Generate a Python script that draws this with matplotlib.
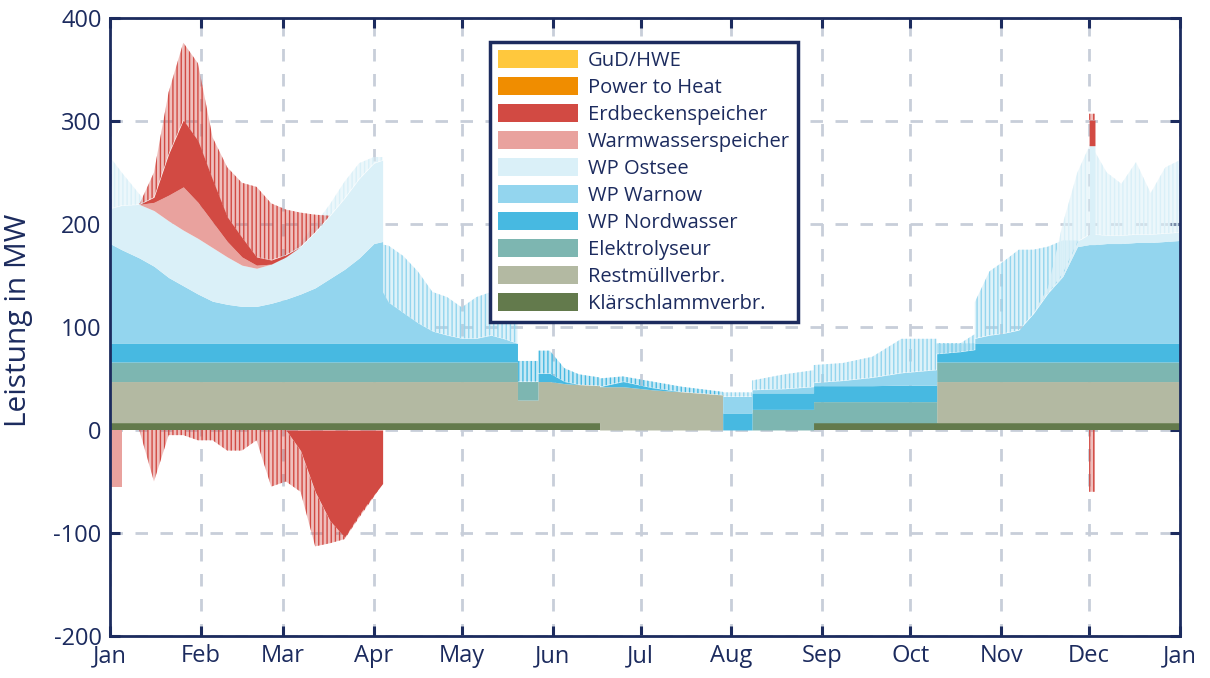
import matplotlib
matplotlib.use("Agg")
import matplotlib.pyplot as plt
from matplotlib.patches import Patch
import numpy as np

plt.rcParams['font.family'] = ['Open Sans', 'DejaVu Sans']
plt.rcParams['axes.unicode_minus'] = False
plt.rcParams['hatch.linewidth'] = 1.0

# ---------------- data (MW) ----------------
# day of year; repeated days mark step changes
days = [0, 4, 4, 10, 15, 20, 25, 30, 35, 40,
        45, 50, 55, 60, 65, 70, 75, 80, 85, 90,
        93, 93, 95, 100, 105, 110, 115, 120, 125, 130,
        135, 139, 139, 146, 146, 150, 155, 160, 167, 167,
        175, 185, 195, 209, 209, 219, 219, 230, 240, 240,
        250, 260, 270, 282, 282, 290, 295, 295, 300, 305,
        310, 315, 320, 325, 330, 334, 334, 336, 336, 340,
        345, 350, 355, 360, 365]

klaerschlamm = [7, 7, 7, 7, 7, 7, 7, 7, 7, 7,
                7, 7, 7, 7, 7, 7, 7, 7, 7, 7,
                7, 7, 7, 7, 7, 7, 7, 7, 7, 7,
                7, 7, 7, 7, 7, 7, 7, 7, 7, 0,
                0, 0, 0, 0, 0, 0, 0, 0, 0, 7,
                7, 7, 7, 7, 7, 7, 7, 7, 7, 7,
                7, 7, 7, 7, 7, 7, 7, 7, 7, 7,
                7, 7, 7, 7, 7]

restmuell = [40, 40, 40, 40, 40, 40, 40, 40, 40, 40,
             40, 40, 40, 40, 40, 40, 40, 40, 40, 40,
             40, 40, 40, 40, 40, 40, 40, 40, 40, 40,
             40, 40, 22, 22, 40, 40, 38, 37, 36, 42,
             42, 39, 37, 34, 0, 0, 0, 0, 0, 0,
             0, 0, 0, 0, 40, 40, 40, 40, 40, 40,
             40, 40, 40, 40, 40, 40, 40, 40, 40, 40,
             40, 40, 40, 40, 40]

elektrolyseur = [19, 19, 19, 19, 19, 19, 19, 19, 19, 19,
                 19, 19, 19, 19, 19, 19, 19, 19, 19, 19,
                 19, 19, 19, 19, 19, 19, 19, 19, 19, 19,
                 19, 19, 18, 18, 0, 0, 0, 0, 0, 0,
                 0, 0, 0, 0, 0, 0, 20, 20, 20, 20.5,
                 20.5, 20.5, 20.5, 20.5, 19, 19, 19, 19, 19, 19,
                 19, 19, 19, 19, 19, 19, 19, 19, 19, 19,
                 19, 19, 19, 19, 19]

wp_nordwasser = [18, 18, 18, 18, 18, 18, 18, 18, 18, 18,
                 18, 18, 18, 18, 18, 18, 18, 18, 18, 18,
                 18, 18, 18, 18, 18, 18, 18, 18, 18, 18,
                 18, 18, 0, 0, 8, 8, 2, 0, 0, 0,
                 5, 2, 0, 0, 16.5, 16.5, 16, 16, 16, 15.5,
                 15.5, 15.5, 16, 16, 8, 10, 12, 18, 18, 18,
                 18, 18, 18, 18, 18, 18, 18, 18, 18, 18,
                 18, 18, 18, 18, 18]
wp_nordwasser_peak = [18, 18, 18, 18, 18, 18, 18, 18, 18, 18,
                      18, 18, 18, 18, 18, 18, 18, 18, 18, 18,
                      18, 18, 18, 18, 18, 18, 18, 18, 18, 18,
                      18, 18, 20, 20, 30, 30, 15, 10, 8, 8,
                      10, 8, 5, 3, 16.5, 16.5, 16, 16, 16, 15.5,
                      15.5, 15.5, 16, 16, 18, 18, 18, 18, 18, 18,
                      18, 18, 18, 18, 18, 18, 18, 18, 18, 18,
                      18, 18, 18, 18, 18]

wp_warnow = [97, 91, 91, 83, 75, 64, 56, 48, 41, 38,
             36, 36, 39, 43, 48, 54, 63, 72, 83, 97,
             99, 50, 40, 30, 20, 12, 8, 5, 5, 8,
             4, 0, 0, 0, 0, 0, 0, 0, 0, 0,
             0, 0, 0, 0, 16, 16, 3, 4, 6, 3,
             5, 8, 12, 15, 0, 0, 0, 5, 8, 10,
             13, 29, 49, 65, 94, 96, 96, 96, 96, 97,
             97, 98, 98, 99, 100]
wp_warnow_peak = [97, 91, 91, 83, 75, 64, 56, 48, 41, 38,
                  36, 36, 39, 43, 48, 54, 63, 72, 83, 97,
                  99, 96, 95, 85, 70, 50, 45, 35, 45, 50,
                  35, 20, 0, 0, 0, 0, 0, 0, 0, 0,
                  0, 0, 0, 0, 20, 20, 12, 18, 22, 20,
                  22, 28, 45, 45, 10, 8, 15, 40, 70, 80,
                  91, 91, 94, 100, 100, 99, 96, 96, 99, 100,
                  100, 100, 100, 101, 102]

wp_ostsee = [34, 43, 43, 52, 54, 55, 54, 54, 52, 46,
             40, 37, 38, 41, 46, 54, 61, 69, 77, 78,
             79, 0, 0, 0, 0, 0, 0, 0, 0, 0,
             0, 0, 0, 0, 0, 0, 0, 0, 0, 0,
             0, 0, 0, 0, 0, 0, 0, 0, 0, 0,
             0, 0, 0, 0, 0, 0, 0, 0, 0, 0,
             0, 0, 0, 3, 5, 10, 96, 96, 10, 8,
             8, 8, 8, 8, 8]
wp_ostsee_peak = [84, 75, 75, 62, 54, 55, 54, 54, 52, 46,
                  40, 37, 38, 41, 50, 62, 72, 85, 92, 84,
                  82, 0, 0, 0, 0, 0, 0, 0, 0, 0,
                  0, 0, 0, 0, 0, 0, 0, 0, 0, 0,
                  0, 0, 0, 0, 0, 0, 0, 0, 0, 0,
                  0, 0, 0, 0, 0, 0, 0, 0, 0, 0,
                  0, 0, 5, 51, 72, 95, 97, 97, 90, 69,
                  58, 78, 48, 72, 78]

warmwasser = [0, 0, 0, 0, 8, 25, 42, 35, 25, 15,
              8, 3, 0, 0, 0, 0, 0, 0, 0, 0,
              0, 0, 0, 0, 0, 0, 0, 0, 0, 0,
              0, 0, 0, 0, 0, 0, 0, 0, 0, 0,
              0, 0, 0, 0, 0, 0, 0, 0, 0, 0,
              0, 0, 0, 0, 0, 0, 0, 0, 0, 0,
              0, 0, 0, 0, 0, 0, 0, 0, 0, 0,
              0, 0, 0, 0, 0]
warmwasser_neg = [-55, -55, 0, 0, 0, 0, 0, 0, 0, 0,
                  0, 0, 0, 0, 0, 0, 0, 0, 0, 0,
                  0, 0, 0, 0, 0, 0, 0, 0, 0, 0,
                  0, 0, 0, 0, 0, 0, 0, 0, 0, 0,
                  0, 0, 0, 0, 0, 0, 0, 0, 0, 0,
                  0, 0, 0, 0, 0, 0, 0, 0, 0, 0,
                  0, 0, 0, 0, 0, 0, 0, 0, 0, 0,
                  0, 0, 0, 0, 0]

erdbecken = [0, 0, 0, 0, 5, 40, 65, 60, 41, 24,
             19, 8, 4, 2, 0, 0, 0, 0, 0, 0,
             0, 0, 0, 0, 0, 0, 0, 0, 0, 0,
             0, 0, 0, 0, 0, 0, 0, 0, 0, 0,
             0, 0, 0, 0, 0, 0, 0, 0, 0, 0,
             0, 0, 0, 0, 0, 0, 0, 0, 0, 0,
             0, 0, 0, 0, 0, 0, 25, 25, 0, 0,
             0, 0, 0, 0, 0]
erdbecken_peak = [0, 0, 0, 0, 29, 100, 140, 135, 82, 72,
                  72, 76, 59, 46, 33, 17, 0, 0, 0, 0,
                  0, 0, 0, 0, 0, 0, 0, 0, 0, 0,
                  0, 0, 0, 0, 0, 0, 0, 0, 0, 0,
                  0, 0, 0, 0, 0, 0, 0, 0, 0, 0,
                  0, 0, 0, 0, 0, 0, 0, 0, 0, 0,
                  0, 0, 0, 0, 0, 0, 31, 31, 0, 0,
                  0, 0, 0, 0, 0]
erdbecken_neg = [0, 0, 0, 0, 0, 0, 0, 0, 0, 0,
                 0, 0, 0, 0, -20, -60, -88, -104, -82, -63,
                 -52, 0, 0, 0, 0, 0, 0, 0, 0, 0,
                 0, 0, 0, 0, 0, 0, 0, 0, 0, 0,
                 0, 0, 0, 0, 0, 0, 0, 0, 0, 0,
                 0, 0, 0, 0, 0, 0, 0, 0, 0, 0,
                 0, 0, 0, 0, 0, 0, 0, 0, 0, 0,
                 0, 0, 0, 0, 0]
erdbecken_neg_peak = [0, 0, 0, 0, -50, -5, -5, -10, -10, -20,
                      -20, -10, -55, -50, -60, -113, -110, -106, -85, -65,
                      -52, 0, 0, 0, 0, 0, 0, 0, 0, 0,
                      0, 0, 0, 0, 0, 0, 0, 0, 0, 0,
                      0, 0, 0, 0, 0, 0, 0, 0, 0, 0,
                      0, 0, 0, 0, 0, 0, 0, 0, 0, 0,
                      0, 0, 0, 0, 0, 0, -60, -60, 0, 0,
                      0, 0, 0, 0, 0]

month_starts = [0, 31, 59, 90, 120, 151, 181, 212, 243, 273, 304, 334, 365]
month_labels = ['Jan', 'Feb', 'Mar', 'Apr', 'May', 'Jun', 'Jul', 'Aug',
                'Sep', 'Oct', 'Nov', 'Dec', 'Jan']
y_ticks = [-200, -100, 0, 100, 200, 300, 400]

legend_names = ['GuD/HWE', 'Power to Heat', 'Erdbeckenspeicher',
                'Warmwasserspeicher', 'WP Ostsee', 'WP Warnow',
                'WP Nordwasser', 'Elektrolyseur', 'Restmüllverbr.',
                'Klärschlammverbr.']

# ---------------- style ----------------
NAVY = '#1c2b5e'
colors = {
    'GuD/HWE': '#FFC83D',
    'Power to Heat': '#F08D00',
    'Erdbeckenspeicher': '#D24A43',
    'Warmwasserspeicher': '#E9A29E',
    'WP Ostsee': '#DAF0F8',
    'WP Warnow': '#93D5EE',
    'WP Nordwasser': '#47B9E1',
    'Elektrolyseur': '#7DB6B1',
    'Restmüllverbr.': '#B3B9A2',
    'Klärschlammverbr.': '#637A4C',
}
# look of the fluctuating (hourly peak) envelope of each series
peak_alpha = {'WP Nordwasser': 0.3, 'WP Warnow': 0.3, 'WP Ostsee': 0.5,
              'Erdbeckenspeicher': 0.35}
peak_hatch = '||||'

fig = plt.figure(figsize=(12.10, 6.78), dpi=100)
ax = fig.add_axes([0.0909, 0.062, 0.8843, 0.9115])

x = np.array(days, dtype=float)
stack = [
    ('Klärschlammverbr.', klaerschlamm, None),
    ('Restmüllverbr.', restmuell, None),
    ('Elektrolyseur', elektrolyseur, None),
    ('WP Nordwasser', wp_nordwasser, wp_nordwasser_peak),
    ('WP Warnow', wp_warnow, wp_warnow_peak),
    ('WP Ostsee', wp_ostsee, wp_ostsee_peak),
    ('Warmwasserspeicher', warmwasser, None),
    ('Erdbeckenspeicher', erdbecken, erdbecken_peak),
]


def peak_band(x, lo, hi, name, z=1.5):
    c = colors[name]
    ax.fill_between(x, lo, hi, facecolor=c, alpha=peak_alpha[name], lw=0, zorder=z)
    ax.fill_between(x, lo, hi, facecolor='none', edgecolor=c, hatch=peak_hatch,
                    lw=0, zorder=z)


cum = np.zeros_like(x)
for name, vals, peak in stack:
    v = np.array(vals, dtype=float)
    top = cum + v
    ax.fill_between(x, cum, top, color=colors[name], lw=0, zorder=2)
    if peak is not None:
        peak_band(x, top, cum + np.array(peak, dtype=float), name)
    cum = top

ax.fill_between(x, 0, warmwasser_neg, color=colors['Warmwasserspeicher'], lw=0, zorder=2)
ax.fill_between(x, 0, erdbecken_neg, color=colors['Erdbeckenspeicher'], lw=0, zorder=2)
peak_band(x, erdbecken_neg, erdbecken_neg_peak, 'Erdbeckenspeicher')

ax.set_xlim(0, 365)
ax.set_ylim(-200, 400)
ax.set_xticks(month_starts)
ax.set_xticklabels(month_labels)
ax.set_yticks(y_ticks)
ax.set_axisbelow(True)
ax.grid(True, color='#c8ced9', lw=2, dashes=(4.5, 4.5))

for s in ax.spines.values():
    s.set_color(NAVY)
    s.set_linewidth(2)
    s.set_zorder(5)
ax.tick_params(direction='in', length=7, width=2.2, color=NAVY, labelcolor=NAVY,
               labelsize=17, top=True, right=True, pad=6)
ax.set_ylabel('Leistung in MW', fontsize=21.5, color=NAVY, labelpad=5)
ax.yaxis.set_label_coords(-0.072, 0.51)

handles = [Patch(facecolor=colors[n], edgecolor='none') for n in legend_names]
leg = ax.legend(handles, legend_names, loc='upper left', bbox_to_anchor=(0.355, 0.961),
                fontsize=14.5, frameon=True, fancybox=False, framealpha=1,
                handlelength=4.0, handleheight=1.0, labelspacing=0.3,
                handletextpad=0.45, borderpad=0.4, borderaxespad=0)
leg.get_frame().set_edgecolor(NAVY)
leg.get_frame().set_linewidth(2.5)
leg.set_zorder(6)
for t in leg.get_texts():
    t.set_color(NAVY)

fig.savefig('out.png', dpi=100)
